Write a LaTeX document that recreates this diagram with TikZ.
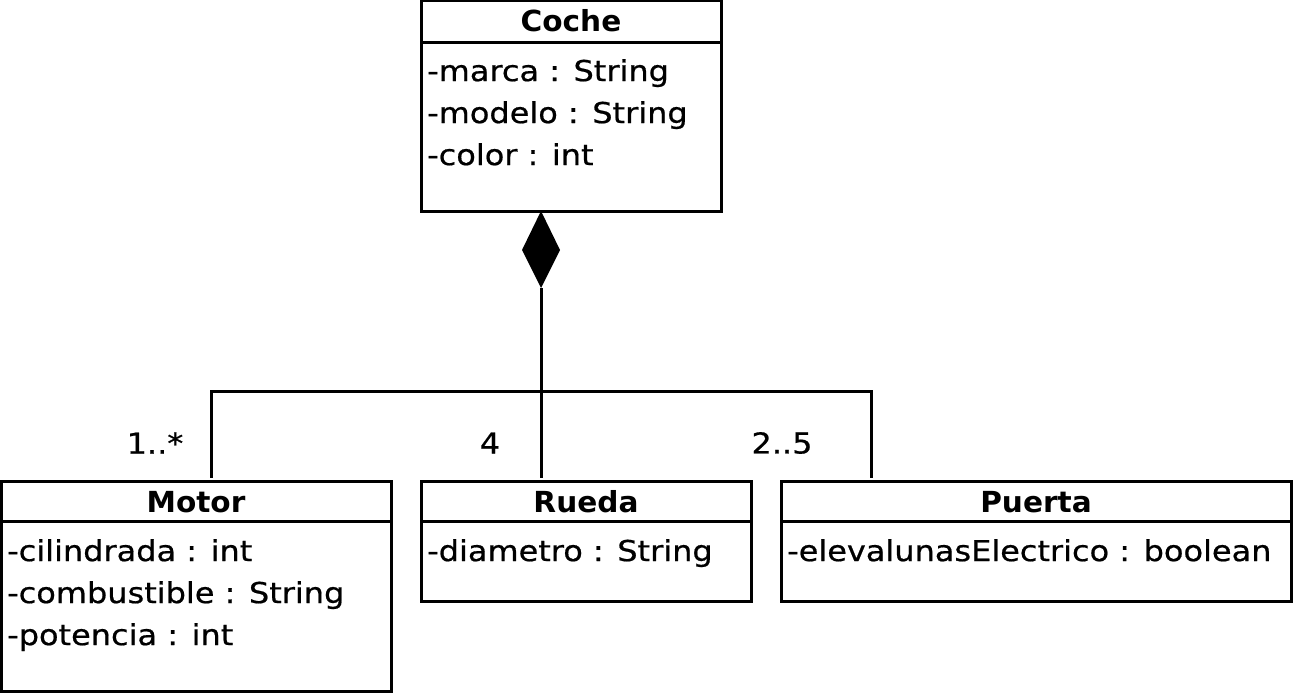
\documentclass[tikz,border=0pt]{standalone}
\usepackage{fontspec}
\setmainfont{DejaVu Sans}[FakeStretch=1.11,FakeBold=0.6]
\newfontfamily\titlefont{DejaVu Sans}[FakeStretch=1.02]
\begin{document}
\begin{tikzpicture}[x=1pt,y=-1pt,
  classbox/.style={draw,line width=3pt,rectangle,outer sep=0pt,inner sep=0pt,anchor=north west},
  title/.style={font=\titlefont\fontsize{29}{29}\selectfont\bfseries,inner sep=0pt,anchor=base},
  attr/.style={font=\fontsize{28.8}{42}\selectfont,inner sep=0pt,anchor=north west,align=left},
  mult/.style={font=\fontsize{28.8}{28.8}\selectfont,inner sep=0pt,anchor=center},
  conn/.style={line width=3pt}]
\useasboundingbox (0,0) rectangle (1293,693);
% boxes
\node[classbox,minimum width=300pt,minimum height=210pt] (coche) at (421,1) {};
\node[classbox,minimum width=390pt,minimum height=210pt] (motor) at (1,481) {};
\node[classbox,minimum width=330pt,minimum height=120pt] (rueda) at (421,481) {};
\node[classbox,minimum width=510pt,minimum height=120pt] (puerta) at (781,481) {};
% separators
\draw[conn] (421,43) -- (721,43);
\draw[conn] (1,521) -- (391,521);
\draw[conn] (421,521) -- (751,521);
\draw[conn] (781,521) -- (1291,521);
% titles
\node[title] (tcoche) at (571,32) {Coche};
\node[title] (tmotor) at (196,512) {Motor};
\node[title] (trueda) at (586,512) {Rueda};
\node[title] (tpuerta) at (1036,512) {Puerta};
% attributes
\node[attr] (acoche) at (427,59) {-marca : String\\-modelo : String\\-color : int};
\node[attr] (amotor) at (7,539) {-cilindrada : int\\-combustible : String\\-potencia : int};
\node[attr] (arueda) at (427,539) {-diametro : String};
\node[attr] (apuerta) at (787,539) {-elevalunasElectrico : boolean};
% composition
\fill (541,211) -- (560,250) -- (541,288) -- (522,250) -- cycle;
\coordinate (dbot) at (541,288);
\coordinate (j) at (541,391);
\coordinate (jl) at (211,391);
\coordinate (jr) at (871,391);
\coordinate (em) at (211,478);
\coordinate (er) at (541,478);
\coordinate (ep) at (871,478);
\draw[conn] (dbot) -- (j);
\draw[conn,line cap=rect] (jl) -- (jr);
\draw[conn] (jl) -- (em);
\draw[conn] (j) -- (er);
\draw[conn] (jr) -- (ep);
% multiplicities
\node[mult] (m1) at (155,443) {1..*};
\node[mult] (m2) at (490,443) {4};
\node[mult] (m3) at (782,443) {2..5};
\end{tikzpicture}
\end{document}
